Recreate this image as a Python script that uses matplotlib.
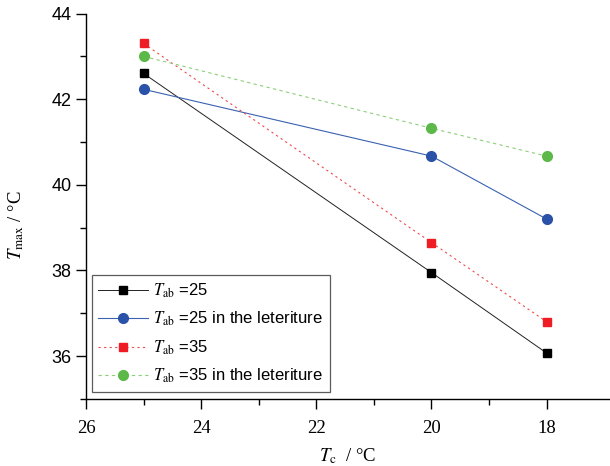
import matplotlib
matplotlib.use('Agg')
import matplotlib.pyplot as plt
from matplotlib.ticker import MultipleLocator, FixedLocator

plt.rcParams['font.family'] = ['Liberation Sans', 'DejaVu Sans']
plt.rcParams['mathtext.fontset'] = 'stix'

# --- 데이터 ---
tc = [25, 20, 18]
tab25 = [42.6, 37.95, 36.07]
tab25_lit = [42.23, 40.67, 39.2]
tab35 = [43.3, 38.65, 36.8]
tab35_lit = [43.0, 41.32, 40.67]

labels = [
    r'$T_{\mathrm{ab}}$ =25',
    r'$T_{\mathrm{ab}}$ =25 in the leteriture',
    r'$T_{\mathrm{ab}}$ =35',
    r'$T_{\mathrm{ab}}$ =35 in the leteriture',
]

fig = plt.figure(figsize=(6.1, 4.66), dpi=100)
ax = fig.add_axes([0.141, 0.144, 0.859, 0.827])

ax.plot(tc, tab25, '-', color='#222222', lw=0.7, marker='s', ms=6,
        mfc='#000000', mec='#000000', label=labels[0])
ax.plot(tc, tab25_lit, '-', color='#3a62b0', lw=0.8, marker='o', ms=7,
        mfc='#2a52a8', mec='#2a52a8', label=labels[1])
ax.plot(tc, tab35, linestyle=(0, (2, 3)), color='#ee4a4f', lw=0.8, marker='s', ms=6,
        mfc='#ee1c24', mec='#ee1c24', label=labels[2])
ax.plot(tc, tab35_lit, linestyle=(0, (3, 3)), color='#8ccf7a', lw=0.8, marker='o', ms=7,
        mfc='#5cb848', mec='#5cb848', label=labels[3])

ax.set_xlim(26, 16.9)
ax.set_ylim(35, 44)
ax.xaxis.set_major_locator(MultipleLocator(2))
ax.xaxis.set_minor_locator(FixedLocator([25, 23, 21, 19]))
ax.yaxis.set_major_locator(MultipleLocator(2))
ax.yaxis.set_minor_locator(MultipleLocator(1))

ax.spines['top'].set_visible(False)
ax.spines['right'].set_visible(False)
ax.spines['left'].set_linewidth(1.0)
ax.spines['bottom'].set_linewidth(1.0)
ax.tick_params(which='major', direction='out', length=7, width=1)
ax.tick_params(which='minor', direction='out', length=4, width=1)
ax.tick_params(axis='y', labelsize=13)
ax.tick_params(axis='x', labelsize=13.5, pad=8)
for t in ax.get_xticklabels():
    t.set_fontfamily('Liberation Serif')

ax.set_xlabel(r'$T_{\mathrm{c}}$  / °C', fontfamily='Liberation Serif', fontsize=13.5, labelpad=7)
ax.set_ylabel(r'$T_{\mathrm{max}}$ / °C', fontfamily='Liberation Serif', fontsize=13.5, va='center')
ax.yaxis.set_label_coords(-0.133, 0.45)

leg = ax.legend(loc='lower left', bbox_to_anchor=(0.011, 0.018), fontsize=12,
                frameon=True, fancybox=False, edgecolor='#333333',
                handlelength=3.0, handletextpad=0.3, borderpad=0.4,
                labelspacing=0.6, borderaxespad=0)
leg.get_frame().set_linewidth(0.9)

fig.savefig('out.png', dpi=100)
